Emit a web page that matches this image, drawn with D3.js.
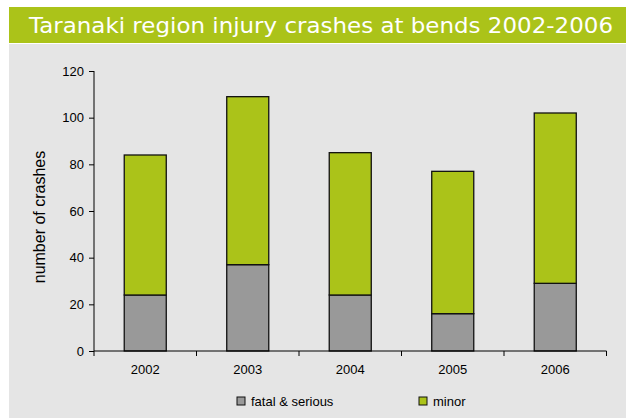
<!DOCTYPE html>
<html>
<head>
<meta charset="utf-8">
<script src="https://cdn.jsdelivr.net/npm/d3@7"></script>
<style>
  body { margin: 0; background: #fff; }
  svg { display: block; }
</style>
</head>
<body>
<div id="chart"></div>
<script>
// data
const years = ["2002", "2003", "2004", "2005", "2006"];
const fatalSerious = [24, 37, 24, 16, 29];
const minor = [60, 72, 61, 61, 73];
const yTicks = [0, 20, 40, 60, 80, 100, 120];
const seriesNames = ["fatal & serious", "minor"];

const width = 626;
const height = 418;
const green = "#abc319";
const grey = "#999999";

const svg = d3.select("#chart").append("svg")
  .attr("width", width)
  .attr("height", height);

// panel + title band
svg.append("rect").attr("x", 9).attr("y", 44).attr("width", width - 9).attr("height", height - 44)
  .attr("fill", "#e5e5e5");
svg.append("rect").attr("x", 9).attr("y", 7).attr("width", width - 9).attr("height", 36)
  .attr("fill", green);
svg.append("text")
  .attr("x", 29).attr("y", 33)
  .attr("font-family", "'DejaVu Sans', Verdana, sans-serif")
  .attr("font-size", 21)
  .attr("fill", "#fff")
  .attr("textLength", 584)
  .attr("lengthAdjust", "spacingAndGlyphs")
  .text("Taranaki region injury crashes at bends 2002-2006");

// scales
const x = d3.scaleBand().domain(years).range([94, 606.5]).paddingInner(0.59).paddingOuter(0.295);
const y = d3.scaleLinear().domain([0, 120]).range([351, 71]);

const rows = years.map((yr, i) => ({ year: yr, "fatal & serious": fatalSerious[i], minor: minor[i] }));
const stacked = d3.stack().keys(seriesNames)(rows);
const color = d3.scaleOrdinal().domain(seriesNames).range([grey, green]);

// bars
svg.append("g").selectAll("g")
  .data(stacked)
  .join("g")
    .attr("fill", d => color(d.key))
  .selectAll("rect")
  .data(d => d)
  .join("rect")
    .attr("x", d => x(d.data.year))
    .attr("y", d => y(d[1]))
    .attr("width", x.bandwidth())
    .attr("height", d => y(d[0]) - y(d[1]))
    .attr("stroke", "#111")
    .attr("stroke-width", 1.3);

const font = "'Liberation Sans', Arial, sans-serif";

// y axis
svg.append("g")
  .attr("transform", "translate(94,0)")
  .call(d3.axisLeft(y).tickValues(yTicks).tickSize(5).tickPadding(5))
  .call(g => g.select(".domain").attr("d", `M0,${y(120)}V${y(0)}`))
  .call(g => g.selectAll("line, path").attr("stroke", "#000"))
  .call(g => g.selectAll("text").attr("font-family", font).attr("font-size", 13).attr("fill", "#000"));

// x axis with ticks at band boundaries
const xAxis = svg.append("g").attr("transform", "translate(0,351)");
xAxis.append("line").attr("x1", 94).attr("x2", 606.5).attr("stroke", "#000");
const step = x.step();
xAxis.selectAll("line.tick")
  .data(d3.range(years.length + 1))
  .join("line")
    .attr("class", "tick")
    .attr("x1", i => 94 + i * step).attr("x2", i => 94 + i * step)
    .attr("y1", 0).attr("y2", 5)
    .attr("stroke", "#000");
xAxis.selectAll("text")
  .data(years)
  .join("text")
    .attr("x", d => x(d) + x.bandwidth() / 2)
    .attr("y", 23)
    .attr("text-anchor", "middle")
    .attr("font-family", font)
    .attr("font-size", 13)
    .text(d => d);

// y axis title
svg.append("text")
  .attr("transform", "translate(45,217) rotate(-90)")
  .attr("text-anchor", "middle")
  .attr("font-family", font)
  .attr("font-size", 16)
  .text("number of crashes");

// legend
const legendX = [237, 419];
const legend = svg.append("g").selectAll("g")
  .data(seriesNames)
  .join("g")
    .attr("transform", (d, i) => `translate(${legendX[i]},397)`);
legend.append("rect")
  .attr("width", 8).attr("height", 8)
  .attr("fill", d => color(d))
  .attr("stroke", "#111");
legend.append("text")
  .attr("x", 14).attr("y", 8.5)
  .attr("font-family", font)
  .attr("font-size", 13)
  .text(d => d);
</script>
</body>
</html>
